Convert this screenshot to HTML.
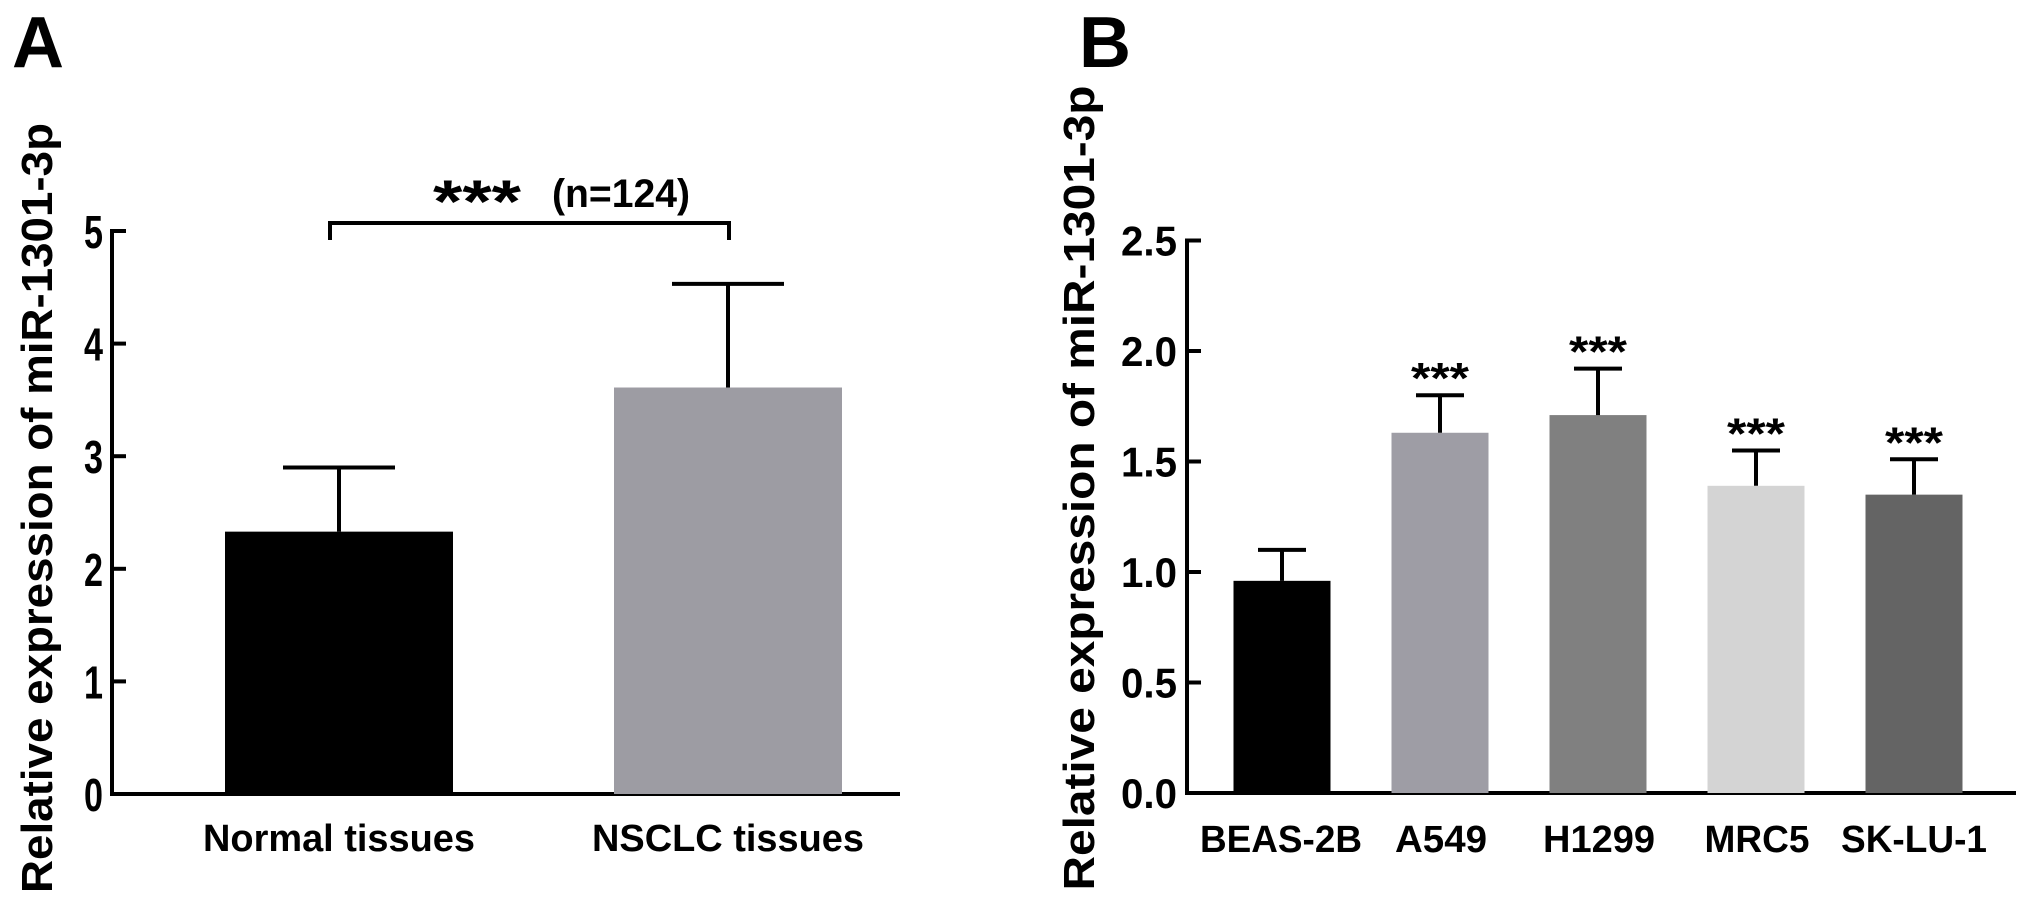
<!DOCTYPE html>
<html><head><meta charset="utf-8"><style>
html,body{margin:0;padding:0;background:#fff;}
svg{display:block;font-family:"Liberation Sans",Arial,sans-serif;}
</style></head><body>
<svg id="fig" width="2031" height="914" viewBox="0 0 2031 914">
<text x="12" y="67" font-size="72" font-weight="bold">A</text>
<text x="1079" y="67" font-size="72" font-weight="bold">B</text>
</svg>
<script>
const catsA = ["Normal tissues","NSCLC tissues"];
const valsA = [2.33, 3.61];
const errA = [2.90, 4.53];
const ticksA = [0,1,2,3,4,5];
const catsB = ["BEAS-2B","A549","H1299","MRC5","SK-LU-1"];
const valsB = [0.96, 1.63, 1.71, 1.39, 1.35];
const errB = [1.10, 1.80, 1.92, 1.55, 1.51];
const sigB = ["","***","***","***","***"];
const ticksB = ["0.0","0.5","1.0","1.5","2.0","2.5"];

const NS="http://www.w3.org/2000/svg";
const svg=document.getElementById('fig');
function el(t,a,txt){const e=document.createElementNS(NS,t);for(const k in a)e.setAttribute(k,a[k]);if(txt!==undefined)e.textContent=txt;svg.appendChild(e);return e;}

// Panel A
const yA=v=>794-v*112.6;
const axA=112;
let e;
e=el('line',{x1:axA,y1:yA(5)-2,x2:axA,y2:yA(0)+2,stroke:'#000','stroke-width':4});

e=el('line',{x1:axA-2,y1:yA(0),x2:900,y2:yA(0),stroke:'#000','stroke-width':4});

ticksA.forEach(t=>{
  e=el('line',{x1:axA,y1:yA(t),x2:axA+14,y2:yA(t),stroke:'#000','stroke-width':4});
  
  e=el('text',{x:axA-9,y:yA(t)+17,'font-size':46,'font-weight':'bold','text-anchor':'end',textLength:19,lengthAdjust:'spacingAndGlyphs'},String(t));
  
});
const colA=['#000000','#9d9ca3'];
const cxA=[339,728];const bwA=228;
catsA.forEach((c,i)=>{
  const x=cxA[i];
  e=el('rect',{x:x-bwA/2,y:yA(valsA[i]),width:bwA,height:yA(0)-yA(valsA[i]),fill:colA[i]});
  
  e=el('path',{d:`M${x} ${yA(valsA[i])} V${yA(errA[i])} M${x-56} ${yA(errA[i])} H${x+56}`,stroke:'#000','stroke-width':4,fill:'none'});
  
  e=el('text',{x:x,y:851,'font-size':38,'font-weight':'bold','text-anchor':'middle',textLength:272,lengthAdjust:'spacingAndGlyphs'},c);
  
});
e=el('path',{d:`M330 240 V223 H729 V240`,stroke:'#000','stroke-width':4,fill:'none'});

e=el('text',{x:433,y:222,'font-size':60,'font-weight':'bold',textLength:88,lengthAdjust:'spacingAndGlyphs'},'***');

e=el('text',{x:552,y:207,'font-size':40,'font-weight':'bold',textLength:138,lengthAdjust:'spacingAndGlyphs'},'(n=124)');

e=el('text',{x:0,y:0,'font-size':44,'font-weight':'bold','text-anchor':'middle',transform:'translate(52,508) rotate(-90)',textLength:770,lengthAdjust:'spacingAndGlyphs'},'Relative expression of miR-1301-3p');


// Panel B
const yB=v=>793-v*221;
const axB=1187;
e=el('line',{x1:axB,y1:yB(2.5)-2,x2:axB,y2:yB(0)+2,stroke:'#000','stroke-width':4});

e=el('line',{x1:axB-2,y1:yB(0),x2:2016,y2:yB(0),stroke:'#000','stroke-width':4});

ticksB.forEach(t=>{
  const v=parseFloat(t);
  e=el('line',{x1:axB,y1:yB(v),x2:axB+14,y2:yB(v),stroke:'#000','stroke-width':4});
  
  e=el('text',{x:axB-10,y:yB(v)+15,'font-size':42,'font-weight':'bold','text-anchor':'end',textLength:56,lengthAdjust:'spacingAndGlyphs'},t);
  
});
const colB=['#000000','#9e9da5','#808080','#d4d4d4','#646464'];
const x0B=1282, stepB=158, bwB=97;
const labX=[1281,1441,1599,1757,1914], labW=[162,92,112,105,146];
catsB.forEach((c,i)=>{
  const x=x0B+i*stepB;
  e=el('rect',{x:x-bwB/2,y:yB(valsB[i]),width:bwB,height:yB(0)-yB(valsB[i]),fill:colB[i]});
  
  e=el('path',{d:`M${x} ${yB(valsB[i])} V${yB(errB[i])} M${x-24} ${yB(errB[i])} H${x+24}`,stroke:'#000','stroke-width':4,fill:'none'});
  
  if(sigB[i]){
    e=el('text',{x:x,y:yB(errB[i])-2,'font-size':44,'font-weight':'bold','text-anchor':'middle',textLength:58,lengthAdjust:'spacingAndGlyphs'},sigB[i]);
    
  }
  e=el('text',{x:labX[i],y:852,'font-size':38,'font-weight':'bold','text-anchor':'middle',textLength:labW[i],lengthAdjust:'spacingAndGlyphs'},c);
  
});
e=el('text',{x:0,y:0,'font-size':44,'font-weight':'bold','text-anchor':'middle',transform:'translate(1094,488) rotate(-90)',textLength:805,lengthAdjust:'spacingAndGlyphs'},'Relative expression of miR-1301-3p');

</script>
</body></html>
